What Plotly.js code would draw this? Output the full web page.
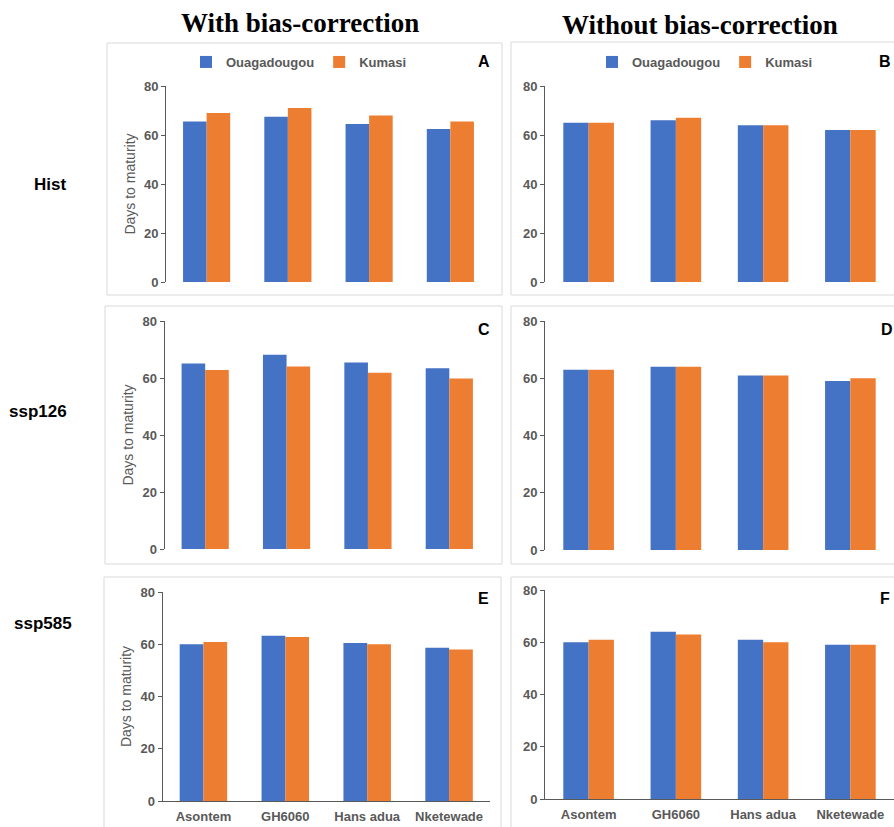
<!DOCTYPE html>
<html>
<head>
<meta charset="utf-8">
<script src="https://cdn.plot.ly/plotly-3.0.1.min.js"></script>
<style>html,body{margin:0;padding:0;background:#fff;}#chart{width:894px;height:827px;}</style>
</head>
<body>
<div id="chart"></div>
<script>
// ---- data ----
const varieties = ['Asontem', 'GH6060', 'Hans adua', 'Nketewade'];
const seriesNames = ['Ouagadougou', 'Kumasi'];
const yTicks = [0, 20, 40, 60, 80];

const A_ouaga  = [65.5, 67.5, 64.5, 62.5];
const A_kumasi = [69.0, 71.0, 68.0, 65.5];
const B_ouaga  = [65, 66, 64, 62];
const B_kumasi = [65, 67, 64, 62];
const C_ouaga  = [65.1, 68.2, 65.4, 63.4];
const C_kumasi = [62.8, 64.0, 61.8, 59.8];
const D_ouaga  = [63, 64, 61, 59];
const D_kumasi = [63, 64, 61, 60];
const E_ouaga  = [60.0, 63.3, 60.5, 58.7];
const E_kumasi = [60.9, 62.8, 60.0, 58.0];
const F_ouaga  = [60, 64, 61, 59];
const F_kumasi = [61, 63, 60, 59];

const panelLetters = ['A', 'B', 'C', 'D', 'E', 'F'];
const columnTitles = ['With bias-correction', 'Without bias-correction'];
const rowLabels = ['Hist', 'ssp126', 'ssp585'];
const yTitle = 'Days to maturity';

// ---- styling ----
const W = 894, H = 827;
const BLUE = '#4472C4', ORANGE = '#ED7D31', GRAY = '#595959';
const SANS = 'Liberation Sans, Arial, sans-serif';
const SERIF = 'Liberation Serif, Times New Roman, serif';

function xd(a, b) { return [a / W, Math.min(b / W, 1)]; }
function yd(top, bottom) { return [(H - bottom) / H, (H - top) / H]; }
function px(x) { return x / W; }
function py(y) { return (H - y) / H; }

const panels = [
  {o: A_ouaga, k: A_kumasi, xdom: xd(166, 491), ydom: yd(86, 282), ytitle: true, xlabels: false, legend: 'legend'},
  {o: B_ouaga, k: B_kumasi, xdom: xd(545, 894), ydom: yd(86, 282), ytitle: false, xlabels: false, legend: 'legend2'},
  {o: C_ouaga, k: C_kumasi, xdom: xd(164.5, 490), ydom: yd(321, 549), ytitle: true, xlabels: false},
  {o: D_ouaga, k: D_kumasi, xdom: xd(545, 894), ydom: yd(321, 550), ytitle: false, xlabels: false},
  {o: E_ouaga, k: E_kumasi, xdom: xd(162.5, 490), ydom: yd(592, 801), ytitle: true, xlabels: true},
  {o: F_ouaga, k: F_kumasi, xdom: xd(545, 894), ydom: yd(590, 799), ytitle: false, xlabels: true}
];

const legendFont = {family: SANS, size: 13, color: GRAY, weight: 'bold'};
const data = [];
const layout = {
  width: W, height: H,
  margin: {l: 0, r: 0, t: 0, b: 0},
  paper_bgcolor: '#ffffff', plot_bgcolor: '#ffffff',
  barmode: 'group', bargap: 0.42, bargroupgap: 0,
  font: {family: SANS, color: GRAY},
  showlegend: true,
  legend: {orientation: 'h', x: px(186), y: py(62), xanchor: 'left', yanchor: 'middle',
           font: legendFont, bgcolor: 'rgba(0,0,0,0)', itemwidth: 30},
  legend2: {orientation: 'h', x: px(592), y: py(62), xanchor: 'left', yanchor: 'middle',
            font: legendFont, bgcolor: 'rgba(0,0,0,0)', itemwidth: 30},
  annotations: [], shapes: []
};

panels.forEach((p, i) => {
  const n = i + 1;
  const xa = n === 1 ? 'x' : 'x' + n;
  const ya = n === 1 ? 'y' : 'y' + n;
  const showL = !!p.legend;
  data.push({type: 'bar', name: seriesNames[0], x: varieties, y: p.o, xaxis: xa, yaxis: ya,
             marker: {color: BLUE}, showlegend: showL, legend: p.legend || 'legend', hoverinfo: 'y'});
  data.push({type: 'bar', name: seriesNames[1], x: varieties, y: p.k, xaxis: xa, yaxis: ya,
             marker: {color: ORANGE}, showlegend: showL, legend: p.legend || 'legend', hoverinfo: 'y'});
  const xKey = n === 1 ? 'xaxis' : 'xaxis' + n;
  const yKey = n === 1 ? 'yaxis' : 'yaxis' + n;
  layout[xKey] = {
    domain: p.xdom, anchor: ya, type: 'category',
    showline: p.xlabels, linecolor: GRAY, linewidth: 1,
    showticklabels: p.xlabels, ticks: '', showgrid: false, zeroline: false, ticklabelstandoff: 3,
    tickfont: {family: SANS, size: 13, color: GRAY, weight: 'bold'}, fixedrange: true
  };
  layout[yKey] = {
    domain: p.ydom, anchor: xa, range: [0, 80], tickvals: yTicks,
    showline: true, linecolor: GRAY, linewidth: 1,
    ticks: 'outside', ticklen: 4, tickcolor: GRAY, showgrid: false, zeroline: false,
    tickfont: {family: SANS, size: 13, color: GRAY, weight: 'bold'}, fixedrange: true,
    title: p.ytitle ? {text: yTitle, standoff: 5, font: {family: SANS, size: 14, color: GRAY}} : {text: ''}
  };
});

// panel boxes
const boxes = [
  [107, 43, 502, 295], [511, 42, 900, 295],
  [105, 306, 502, 564], [511, 306, 900, 564],
  [104, 577, 501, 840], [511, 577, 900, 840]
];
boxes.forEach(b => {
  layout.shapes.push({type: 'rect', xref: 'paper', yref: 'paper',
    x0: px(b[0]), x1: px(b[2]), y0: py(b[3]), y1: py(b[1]),
    line: {color: '#d9d9d9', width: 1}, fillcolor: 'rgba(0,0,0,0)', layer: 'below'});
});

// panel letters
const letterPos = [[484, 61], [885, 61], [484, 329], [887, 329], [484, 598], [885, 598]];
panelLetters.forEach((t, i) => {
  layout.annotations.push({text: t, xref: 'paper', yref: 'paper', x: px(letterPos[i][0]), y: py(letterPos[i][1]),
    xanchor: 'center', yanchor: 'middle', showarrow: false,
    font: {family: SANS, size: 16, color: '#000000', weight: 'bold'}});
});

// column titles
const colPos = [[300, 23], [700, 25]];
columnTitles.forEach((t, i) => {
  layout.annotations.push({text: t, xref: 'paper', yref: 'paper', x: px(colPos[i][0]), y: py(colPos[i][1]),
    xanchor: 'center', yanchor: 'middle', showarrow: false,
    font: {family: SERIF, size: 27, color: '#000000', weight: 'bold'}});
});

// row labels
const rowPos = [[50, 184], [38, 412], [43, 623]];
rowLabels.forEach((t, i) => {
  layout.annotations.push({text: t, xref: 'paper', yref: 'paper', x: px(rowPos[i][0]), y: py(rowPos[i][1]),
    xanchor: 'center', yanchor: 'middle', showarrow: false,
    font: {family: SANS, size: 17, color: '#000000', weight: 'bold'}});
});

Plotly.newPlot('chart', data, layout, {displayModeBar: false, staticPlot: true});
</script>
</body>
</html>
